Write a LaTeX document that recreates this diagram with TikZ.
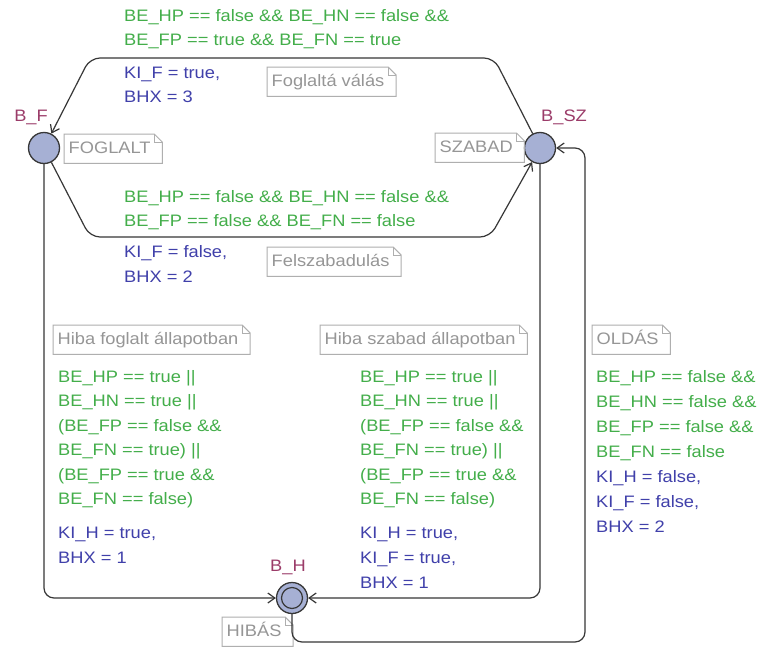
\documentclass[tikz,border=0pt]{standalone}
\usepackage{fontspec}
\setmainfont{Liberation Sans}[FakeStretch=1.1]
\usetikzlibrary{arrows.meta,calc}
\definecolor{guardgreen}{RGB}{67,174,74}
\definecolor{assignblue}{RGB}{64,64,170}
\definecolor{namered}{RGB}{155,60,105}
\definecolor{statefill}{RGB}{166,176,212}
\definecolor{edgegray}{RGB}{55,55,55}
\definecolor{notegray}{RGB}{150,150,150}
\definecolor{noteline}{RGB}{175,175,175}
\newcommand\lblfont{\fontsize{16.6}{20}\selectfont}
\tikzset{
  state/.style={circle, draw=edgegray, line width=1.3pt, fill=statefill, minimum size=31pt, inner sep=0pt},
  urgentstate/.style={state, path picture={\draw[edgegray, line width=1.2pt] (path picture bounding box.center) circle (10.5pt);}},
  edge/.style={draw=edgegray, line width=1.2pt, rounded corners=10pt, -{Straight Barb[length=7pt,width=10pt]}},
  statename/.style={text=namered, font=\lblfont, inner sep=0pt},
  guard/.style={text=guardgreen, font=\lblfont, inner sep=0pt, anchor=base west},
  assign/.style={text=assignblue, font=\lblfont, inner sep=0pt, anchor=base west},
  note/.style={text=notegray, font=\lblfont, anchor=north west, inner xsep=4.5pt, inner ysep=6.5pt,
    text height=12.5pt, text depth=3.5pt, execute at end node={\hspace*{7pt}},
    append after command={\pgfextra{\let\LN\tikzlastnode
      \draw[noteline, line width=1pt, line join=miter]
        (\LN.north west) -- ([xshift=-8pt]\LN.north east) -- ([yshift=-8pt]\LN.north east)
        -- (\LN.south east) -- (\LN.south west) -- cycle;
      \draw[noteline, line width=0.7pt]
        ([xshift=-8pt]\LN.north east) -- ([xshift=-8pt,yshift=-8pt]\LN.north east) -- ([yshift=-8pt]\LN.north east);
    }}}
}
\begin{document}
\begin{tikzpicture}[x=1pt,y=-1pt]
\useasboundingbox[fill=white] (0,0) rectangle (765,653);

% states
\node[state] (BF) at (44,148) {};
\node[state] (BSZ) at (540,148) {};
\node[urgentstate] (BH) at (292,598) {};

\node[statename] (nBF) at (31,117) {B\_F};
\node[statename, anchor=west] (nBSZ) at (541,117) {B\_SZ};
\node[statename] (nBH) at (288,567) {B\_H};

% notes
\node[note] (cF) at (64,134) {FOGLALT};
\node[note] (cSZ) at (435,133) {SZABAD};
\node[note] (cFV) at (267,67) {Foglaltá válás};
\node[note] (cFS) at (267,247) {Felszabadulás};
\node[note] (cHF) at (53,325) {Hiba foglalt állapotban};
\node[note] (cHS) at (320,325) {Hiba szabad állapotban};
\node[note] (cO) at (592,325) {OLDÁS};
\node[note] (cH) at (222,617) {HIBÁS};

% edges
\draw[edge] (BSZ) -- (494,58) -- (90,58) -- (BF);
\draw[edge] (BF) -- (90,237) -- (490,237) -- (BSZ);
\draw[edge] (BF) -- (44,598) -- (BH);
\draw[edge] (BSZ) -- (540,598) -- (BH);
\draw[edge] (BH) -- (292,642) -- (585,642) -- (585,148) -- (BSZ);

% top edge labels
\node[guard] (g1a) at (124,21) {BE\_HP == false \&\& BE\_HN == false \&\&};
\node[guard] (g1b) at (124,45.5) {BE\_FP == true \&\& BE\_FN == true};
\node[assign] (a1a) at (124,78) {KI\_F = true,};
\node[assign] (a1b) at (124,102) {BHX = 3};

% bottom edge labels
\node[guard] (g2a) at (124,202) {BE\_HP == false \&\& BE\_HN == false \&\&};
\node[guard] (g2b) at (124,226.5) {BE\_FP == false \&\& BE\_FN == false};
\node[assign] (a2a) at (124,257.5) {KI\_F = false,};
\node[assign] (a2b) at (124,282) {BHX = 2};

% left edge labels
\node[guard] (g3a) at (58,382) {BE\_HP == true ||};
\node[guard] (g3b) at (58,406.5) {BE\_HN == true ||};
\node[guard] (g3c) at (58,431) {(BE\_FP == false \&\&};
\node[guard] (g3d) at (58,455.5) {BE\_FN == true) ||};
\node[guard] (g3e) at (58,480) {(BE\_FP == true \&\&};
\node[guard] (g3f) at (58,504.5) {BE\_FN == false)};
\node[assign] (a3a) at (58,538) {KI\_H = true,};
\node[assign] (a3b) at (58,563) {BHX = 1};

% middle edge labels
\node[guard] (g4a) at (360,382) {BE\_HP == true ||};
\node[guard] (g4b) at (360,406.5) {BE\_HN == true ||};
\node[guard] (g4c) at (360,431) {(BE\_FP == false \&\&};
\node[guard] (g4d) at (360,455.5) {BE\_FN == true) ||};
\node[guard] (g4e) at (360,480) {(BE\_FP == true \&\&};
\node[guard] (g4f) at (360,504.5) {BE\_FN == false)};
\node[assign] (a4a) at (360,538) {KI\_H = true,};
\node[assign] (a4b) at (360,563) {KI\_F = true,};
\node[assign] (a4c) at (360,588) {BHX = 1};

% right edge labels
\node[guard] (g5a) at (596,382) {BE\_HP == false \&\&};
\node[guard] (g5b) at (596,407) {BE\_HN == false \&\&};
\node[guard] (g5c) at (596,432) {BE\_FP == false \&\&};
\node[guard] (g5d) at (596,457) {BE\_FN == false};
\node[assign] (a5a) at (596,482) {KI\_H = false,};
\node[assign] (a5b) at (596,507) {KI\_F = false,};
\node[assign] (a5c) at (596,532) {BHX = 2};
\end{tikzpicture}
\end{document}
